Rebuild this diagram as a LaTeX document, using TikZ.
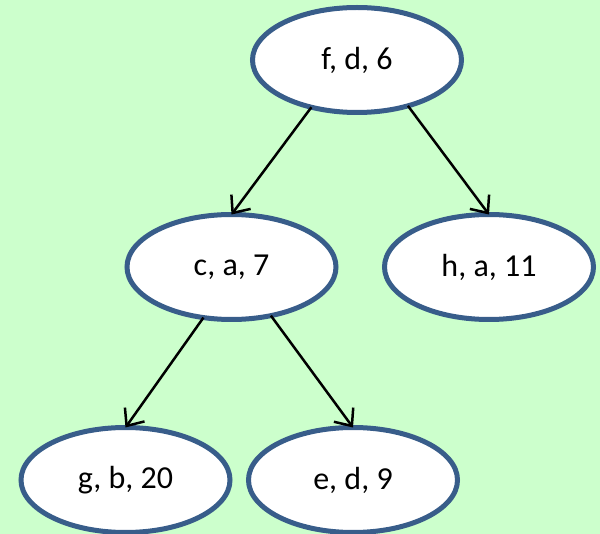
\documentclass[tikz,border=0pt]{standalone}
\usepackage{fontspec}
\setmainfont{Carlito}
\usetikzlibrary{shapes.geometric,arrows.meta}
\definecolor{bgc}{HTML}{CCFFCC}
\definecolor{edgec}{HTML}{385D8A}
\begin{document}
\begin{tikzpicture}[x=1pt,y=-1pt,
  tnode/.style={ellipse,draw=edgec,fill=white,line width=5pt,minimum width=209pt,minimum height=105pt,inner sep=0pt,outer sep=0pt,font=\fontsize{32}{38}\selectfont},
  link/.style={line width=2.5pt,-{Straight Barb[length=14pt,width=24pt,line width=2.5pt]}}]
\fill[bgc] (0,0) rectangle (600,534);
\useasboundingbox (0,0) rectangle (600,534);
\node[tnode] (f) at (357,60) {f, d, 6};
\node[tnode] (c) at (231.5,267) {c, a, 7};
\node[tnode] (h) at (489,267) {h, a, 11};
\node[tnode] (g) at (125.5,480) {g, b, 20};
\node[tnode] (e) at (353,480) {e, d, 9};
\draw[link] (f.226) -- (c.north);
\draw[link] (f.318) -- (h.north);
\draw[link] (c.241) -- (g.north);
\draw[link] (c.309) -- (e.north);
\end{tikzpicture}
\end{document}
